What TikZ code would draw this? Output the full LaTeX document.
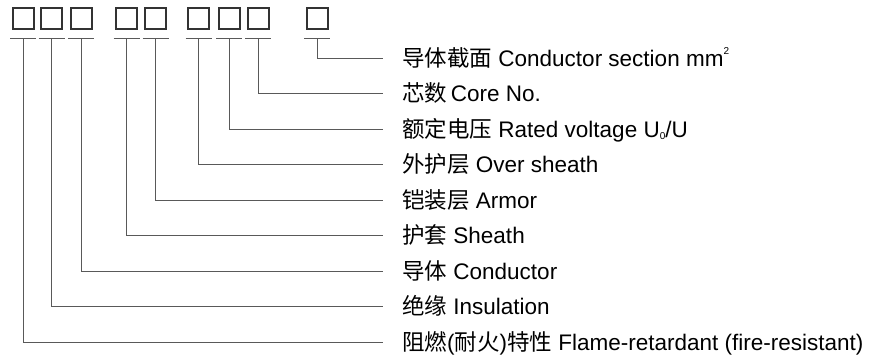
\documentclass[tikz,border=0pt]{standalone}
\usepackage{fontspec}
\setmainfont{Liberation Sans}
\newfontfamily\cjk{Noto Sans CJK SC}
\newcommand\smallidx[1]{{\fontsize{10}{10}\selectfont #1}}
\begin{document}
\begin{tikzpicture}[x=1pt,y=-1pt,
  slot/.style={draw=black!80,line width=2pt,minimum size=21pt,inner sep=0pt},
  lead/.style={draw=black!65,line width=1pt},
  desc/.style={anchor=west,inner sep=0pt,text height=16pt,text depth=0pt,
    font=\fontsize{22.5}{26}\selectfont}]
\useasboundingbox (0,0) rectangle (872,356);
% code boxes
\foreach \n/\x in {1/23,2/51.5,3/81,4/126.5,5/155.5,6/198.5,7/229,8/258,9/317}
{
\node[slot] (b\n) at (\x,18.5) {};
\coordinate (u\n) at ([yshift=-8.5pt]b\n.south);
\draw[lead] ([xshift=-13pt]u\n) -- ([xshift=13pt]u\n);
}
% descriptions
\foreach \n/\t in {9/{{\cjk 导体截面} Conductor section mm\raisebox{1ex}{\smallidx{2}}},
  8/{{\cjk 芯数}\,Core No.},
  7/{{\cjk 额定电压} Rated voltage U\raisebox{-0.25ex}{\smallidx{0}}/U},
  6/{{\cjk 外护层} Over sheath},
  5/{{\cjk 铠装层} Armor},
  4/{{\cjk 护套} Sheath},
  3/{{\cjk 导体} Conductor},
  2/{{\cjk 绝缘} Insulation},
  1/{{\cjk 阻燃}({\cjk 耐火}){\cjk 特性} Flame-retardant (fire-resistant)}}
{
\node[desc] (l\n) at (402,{342-(\n-1)*35.5}) {\t};
\draw[lead] (u\n) |- ([xshift=-19pt]l\n.west);
}
\end{tikzpicture}
\end{document}
